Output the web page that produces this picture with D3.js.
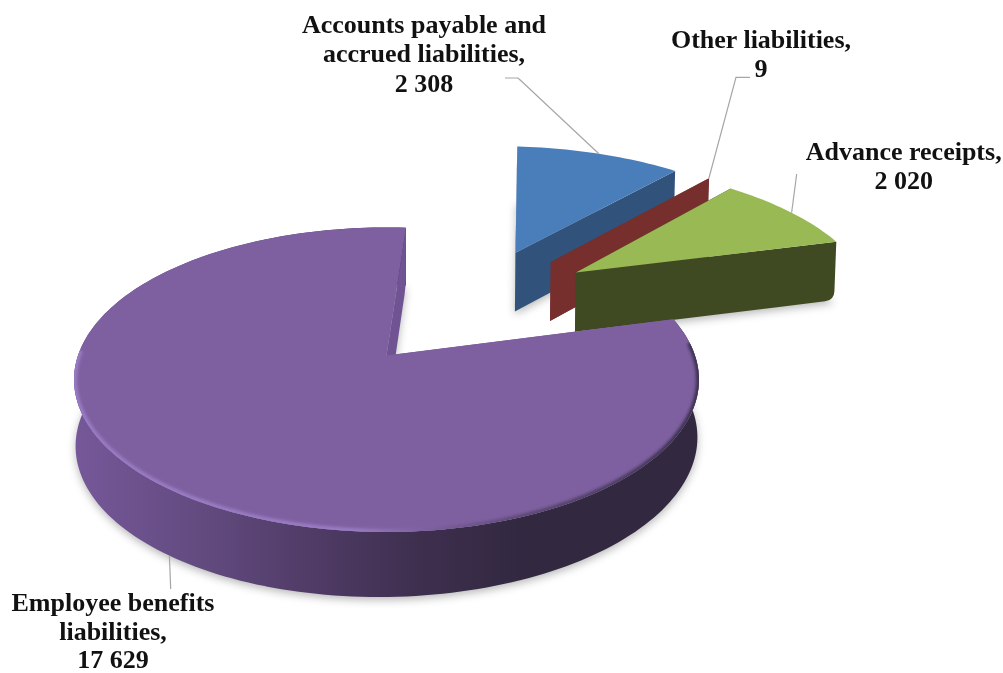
<!DOCTYPE html>
<html>
<head>
<meta charset="utf-8">
<script src="https://cdn.jsdelivr.net/npm/d3@7/dist/d3.min.js"></script>
<style>
  html, body { margin: 0; padding: 0; background: #fff; }
  svg { display: block; }
  text { font-family: "Liberation Serif", "Times New Roman", serif; font-weight: 700; font-size: 26px; fill: #111; }
</style>
</head>
<body>
<svg id="chart" width="1003" height="673"></svg>
<script>
// Liabilities structure, drawn as an exploded 3D pie.
const categories = [
  "Accounts payable and accrued liabilities",
  "Other liabilities",
  "Advance receipts",
  "Employee benefits liabilities"
];
const values = [2308, 9, 2020, 17629];

const labelLines = [
  ["Accounts payable and", "accrued liabilities,"],
  ["Other liabilities,"],
  ["Advance receipts,"],
  ["Employee benefits", "liabilities,"]
];

// Slice appearance
const topColors  = ["#4a7ebb", "#7a3231", "#98b954", "#7e60a0"];
const sideColors = ["#31527b", "#772f2e", "#3f4a22", "#6f5393"];

// Explosion of each slice on the pie's plane, its radius and the lean of its wall
const explode     = [[0.470, 0.778], [0.592, 0.700], [0.674, 0.614], [0, 0]];
const sliceRadius = [1.04, 1.04, 1.02, 1];
const wallLean    = [0, 0, 0, 4.5];

// Label placement: anchor x, baselines, and the leader's elbow points
const labelAnchors = [[424, 32.5], [761, 47.5], [903.7, 159.5], [113, 611]];
const lineHeights  = [29.6, 29.7, 29, 28.5];
const leaderElbows = [
  [[518, 78], [505, 78]],
  [[736, 77.3], [750, 77.3]],
  [[796.7, 174]],
  [[170.7, 589]]
];
const leaderShift = [0, 0, 0.5, -1.5];

// Perspective projection of the pie plane onto the page
const cam = { x0: 386.5, y0: 355.5, a: 308.5, b: 148.4, p: 0.159 };

function project(X, Y, drop) {
  const s = 1 / (1 + cam.p * Y);
  let x = cam.x0 + cam.a * X * s;
  let y = cam.y0 - cam.b * Y * s;
  if (drop !== undefined) {
    x = cam.x0 + (x - cam.x0) * 0.995;
    y += 61.5 - 3.5 * Y + drop;
  }
  return [x, y];
}

const fmt = d3.formatLocale({ decimal: ".", thousands: " ", grouping: [3], currency: ["", ""] }).format(",");

const deg = Math.PI / 180;
const firstAngle = 4.2 * deg;
const arcs = d3.pie().sort(null).startAngle(firstAngle).endAngle(firstAngle + 2 * Math.PI)(values);
const path = d3.line();

function edgePoint(i, angle, radius, lowered) {
  const [ox, oy] = explode[i];
  const sx = radius * Math.sin(angle);
  const sy = radius * Math.cos(angle);
  return project(ox + sx, oy + sy, lowered ? -wallLean[i] * sx : undefined);
}

function arcPoints(i, a0, a1, lowered) {
  const n = Math.max(2, Math.ceil(Math.abs(a1 - a0) * 40));
  return d3.range(n + 1).map(k => edgePoint(i, a0 + (a1 - a0) * k / n, sliceRadius[i], lowered));
}

const svg = d3.select("#chart");
const defs = svg.append("defs");

const soft = defs.append("filter").attr("id", "soft").attr("x", "-10%").attr("y", "-10%").attr("width", "120%").attr("height", "120%");
soft.append("feGaussianBlur").attr("stdDeviation", 4.5);
const edgeBlur = defs.append("filter").attr("id", "edgeBlur").attr("filterUnits", "userSpaceOnUse")
  .attr("x", 0).attr("y", 0).attr("width", 1003).attr("height", 673);
edgeBlur.append("feGaussianBlur").attr("stdDeviation", 1.6);

// Shading along the outer wall of the large slice
const rimGrad = defs.append("linearGradient").attr("id", "rimGrad").attr("gradientUnits", "userSpaceOnUse")
  .attr("x1", 73).attr("x2", 698).attr("y1", 0).attr("y2", 0);
[[0, "#76589a"], [0.2, "#634b80"], [0.4, "#4e3a64"], [0.55, "#3e2f4f"], [0.72, "#322840"], [1, "#322840"]]
  .forEach(([o, c]) => rimGrad.append("stop").attr("offset", o).attr("stop-color", c));

// Bevel highlight where the top face meets the wall
const bevelGrad = defs.append("linearGradient").attr("id", "bevelGrad").attr("gradientUnits", "userSpaceOnUse")
  .attr("x1", 73).attr("x2", 698).attr("y1", 0).attr("y2", 0);
[[0, "#9a7cc6"], [0.45, "#9a7cc6"], [0.56, "#7e60a0"], [0.72, "#5c4874"], [1, "#3c3050"]]
  .forEach(([o, c]) => bevelGrad.append("stop").attr("offset", o).attr("stop-color", c));

// Soft shadow behind every slice
const shadow = svg.append("g").attr("filter", "url(#soft)").attr("fill", "#000").attr("fill-opacity", 0.28);
arcs.forEach((d, i) => {
  const low = [edgePoint(i, 0, 0, true), ...arcPoints(i, d.startAngle, d.endAngle, true)];
  shadow.append("path").attr("d", path(low) + "Z").attr("transform", "translate(0,3)");
});

// Closed cut face whose lower outer corner is rounded
function cutFace(apexTop, cornerTop, cornerLow, apexLow) {
  const toward = (a, b, len) => {
    const dx = b[0] - a[0], dy = b[1] - a[1], h = Math.hypot(dx, dy) || 1;
    return [a[0] + dx / h * len, a[1] + dy / h * len];
  };
  const p = d3.path();
  p.moveTo(...apexTop);
  p.lineTo(...cornerTop);
  p.lineTo(...toward(cornerLow, cornerTop, 9));
  p.quadraticCurveTo(...cornerLow, ...toward(cornerLow, apexLow, 9));
  p.lineTo(...apexLow);
  p.closePath();
  return p.toString();
}

const slices = svg.append("g");
arcs.forEach((d, i) => {
  const g = slices.append("g").attr("class", "slice");
  const apexTop = edgePoint(i, 0, 0, false);
  const apexLow = edgePoint(i, 0, 0, true);
  const startTop = edgePoint(i, d.startAngle, sliceRadius[i], false);
  const startLow = edgePoint(i, d.startAngle, sliceRadius[i], true);
  const endTop = edgePoint(i, d.endAngle, sliceRadius[i], false);
  const endLow = edgePoint(i, d.endAngle, sliceRadius[i], true);
  const side = sideColors[i];
  const rimTop = arcPoints(i, d.startAngle, d.endAngle, false);
  const rimLow = arcPoints(i, d.startAngle, d.endAngle, true).reverse();

  // Hidden cut face, then the outer wall, then the visible cut face
  g.append("path").attr("d", path([apexTop, startTop, startLow, apexLow]) + "Z").attr("fill", side);
  if (i === 3) {
    g.append("path").attr("d", path([...rimTop, ...rimLow]) + "Z").attr("fill", "url(#rimGrad)");
  }
  g.append("path").attr("d", cutFace(apexTop, endTop, endLow, apexLow)).attr("fill", side);

  // Top face
  const topPath = path([apexTop, ...rimTop]) + "Z";
  g.append("path").attr("d", topPath).attr("fill", topColors[i]);

  // Bevel inside the front edge of the large slice
  if (i === 3) {
    defs.append("clipPath").attr("id", "topClip").append("path").attr("d", topPath);
    g.append("g").attr("clip-path", "url(#topClip)").append("path")
      .attr("d", path(arcPoints(i, 85 * deg, 272 * deg, false)))
      .attr("fill", "none").attr("stroke", "url(#bevelGrad)").attr("stroke-width", 6)
      .attr("filter", "url(#edgeBlur)");
  }
});

// Leader lines run from the middle of each slice's outer edge
const leaders = svg.append("g").attr("fill", "none").attr("stroke", "#a6a6a6").attr("stroke-width", 1.2);
arcs.forEach((d, i) => {
  const mid = (d.startAngle + d.endAngle) / 2 + leaderShift[i] * deg;
  const from = edgePoint(i, mid, sliceRadius[i], i === 3);
  leaders.append("path").attr("d", path([from, ...leaderElbows[i]]));
});

// Category and value labels
const labels = svg.append("g").attr("text-anchor", "middle");
arcs.forEach((d, i) => {
  const [x, y] = labelAnchors[i];
  const lines = [...labelLines[i], fmt(values[i])];
  const t = labels.append("text");
  lines.forEach((line, k) => t.append("tspan").attr("x", x).attr("y", y + k * lineHeights[i]).text(line));
});
</script>
</body>
</html>
